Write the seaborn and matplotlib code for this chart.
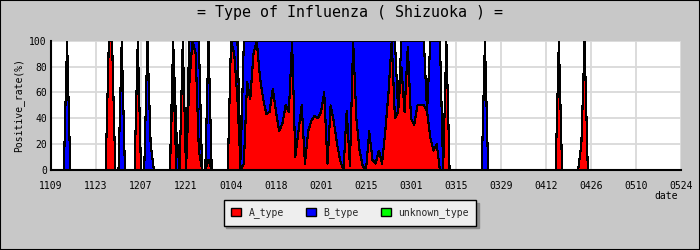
import numpy as np
import pandas as pd
import matplotlib
matplotlib.use('Agg')
import matplotlib.pyplot as plt
import seaborn as sns
from matplotlib.patches import Patch, Rectangle

title = '= Type of Influenza ( Shizuoka ) ='
series_names = ['A_type', 'B_type', 'unknown_type']
series_colors = ['#ff0000', '#0000ff', '#00ff00']
start_date = '2010-11-09'
tick_labels = ['1109', '1123', '1207', '1221', '0104', '0118', '0201', '0215',
               '0301', '0315', '0329', '0412', '0426', '0510', '0524']

# daily positive rate (%), one row = two weeks
a_type = [
    0, 0, 0, 0, 0, 0, 0, 0, 0, 0, 0, 0, 0, 0,
    0, 0, 0, 0, 100, 100, 0, 0, 0, 0, 0, 0, 0, 100,
    0, 0, 0, 0, 0, 0, 0, 0, 0, 0, 80, 0, 0, 100,
    0, 65, 100, 90, 15, 0, 0, 8, 0, 0, 0, 0, 0, 0,
    100, 90, 55, 0, 5, 68, 55, 90, 100, 72, 55, 43, 45, 63,
    45, 30, 36, 50, 45, 100, 10, 30, 50, 5, 30, 38, 42, 40,
    45, 60, 5, 50, 37, 20, 7, 0, 46, 3, 100, 40, 15, 3,
    0, 30, 8, 5, 15, 5, 30, 60, 100, 40, 45, 80, 45, 95,
    40, 35, 50, 50, 50, 45, 25, 15, 20, 0, 0, 100, 0, 0,
    0, 0, 0, 0, 0, 0, 0, 0, 0, 0, 0, 0, 0, 0,
    0, 0, 0, 0, 0, 0, 0, 0, 0, 0, 0, 0, 0, 0,
    0, 0, 0, 0, 100, 0, 0, 0, 0, 0, 0, 20, 100, 0,
    0, 0, 0, 0, 0, 0, 0, 0, 0, 0, 0, 0, 0, 0,
    0, 0, 0, 0, 0, 0, 0, 0, 0, 0, 0, 0, 0, 0,
    0,
]
b_type = [
    0, 0, 0, 0, 0, 100, 0, 0, 0, 0, 0, 0, 0, 0,
    0, 0, 0, 0, 0, 0, 0, 0, 100, 0, 0, 0, 0, 0,
    0, 0, 100, 20, 0, 0, 0, 0, 0, 0, 20, 30, 0, 0,
    0, 35, 0, 10, 85, 0, 0, 92, 0, 0, 0, 0, 0, 0,
    0, 10, 45, 8, 95, 32, 45, 10, 0, 28, 45, 57, 55, 37,
    55, 70, 64, 50, 55, 0, 90, 70, 50, 95, 70, 62, 58, 60,
    55, 40, 95, 50, 63, 80, 93, 100, 54, 97, 0, 60, 85, 97,
    100, 70, 92, 95, 85, 95, 70, 40, 0, 60, 0, 20, 55, 5,
    60, 65, 50, 50, 50, 0, 75, 85, 80, 100, 0, 0, 0, 0,
    0, 0, 0, 0, 0, 0, 0, 0, 0, 100, 0, 0, 0, 0,
    0, 0, 0, 0, 0, 0, 0, 0, 0, 0, 0, 0, 0, 0,
    0, 0, 0, 0, 0, 0, 0, 0, 0, 0, 0, 0, 0, 0,
    0, 0, 0, 0, 0, 0, 0, 0, 0, 0, 0, 0, 0, 0,
    0, 0, 0, 0, 0, 0, 0, 0, 0, 0, 0, 0, 0, 0,
    0,
]
unknown_type = [
    0, 0, 0, 0, 0, 0, 0, 0, 0, 0, 0, 0, 0, 0,
    0, 0, 0, 0, 0, 0, 0, 0, 0, 0, 0, 0, 0, 0,
    0, 0, 0, 0, 0, 0, 0, 0, 0, 0, 0, 0, 0, 0,
    0, 0, 0, 0, 0, 0, 0, 0, 0, 0, 0, 0, 0, 0,
    0, 0, 0, 0, 0, 0, 0, 0, 0, 0, 0, 0, 0, 0,
    0, 0, 0, 0, 0, 0, 0, 0, 0, 0, 0, 0, 0, 0,
    0, 0, 0, 0, 0, 0, 0, 0, 0, 0, 0, 0, 0, 0,
    0, 0, 0, 0, 0, 0, 0, 0, 0, 0, 0, 0, 0, 0,
    0, 0, 0, 0, 0, 0, 0, 0, 0, 0, 0, 0, 0, 0,
    0, 0, 0, 0, 0, 0, 0, 0, 0, 0, 0, 0, 0, 0,
    0, 0, 0, 0, 0, 0, 0, 0, 0, 0, 0, 0, 0, 0,
    0, 0, 0, 0, 0, 0, 0, 0, 0, 0, 0, 0, 0, 0,
    0, 0, 0, 0, 0, 0, 0, 0, 0, 0, 0, 0, 0, 0,
    0, 0, 0, 0, 0, 0, 0, 0, 0, 0, 0, 0, 0, 0,
    0,
]

sns.set_theme(style='white')
plt.rcParams['font.family'] = ['DejaVu Sans Mono']

df = pd.DataFrame({
    'date': pd.date_range(start_date, periods=len(a_type)),
    'A_type': a_type, 'B_type': b_type, 'unknown_type': unknown_type,
})

fig = plt.figure(figsize=(7, 2.5), dpi=100, facecolor='#c8c8c8')
ax = fig.add_axes([51 / 700, 80 / 250, 630 / 700, 129.3 / 250])
ax.set_facecolor('white')

lower = np.zeros(len(df))
for name, color in zip(series_names, series_colors):
    upper = lower + df[name].to_numpy(dtype=float)
    ax.fill_between(df['date'], lower, upper, color=color, lw=0, zorder=2,
                    antialiased=False)
    sns.lineplot(x=df['date'], y=upper, color='black', lw=0.8, ax=ax, zorder=3,
                 antialiased=False)
    lower = upper

ax.set_xlim(df['date'].iloc[0], df['date'].iloc[-1])
ax.set_ylim(0, 100)
ax.set_xticks(df['date'].iloc[::14])
ax.set_xticklabels(tick_labels)
ax.set_yticks([0, 20, 40, 60, 80, 100])
ax.set_yticks([10, 30, 50, 70, 90], minor=True)
ax.tick_params(axis='both', which='both', direction='in', length=4, width=1,
               color='black', labelsize=7, labelcolor='black')
ax.tick_params(axis='x', pad=8)
ax.tick_params(axis='y', pad=3)
ax.grid(True, which='major', color='#d9d9d9', lw=1.3, zorder=0)
ax.set_axisbelow(True)
for side in ['top', 'right']:
    ax.spines[side].set_visible(False)
for side in ['left', 'bottom']:
    ax.spines[side].set_color('black')
    ax.spines[side].set_linewidth(1.5)
    ax.spines[side].set_zorder(5)

ax.set_xlabel('')
ax.set_ylabel('Positive_rate(%)', fontsize=7, color='black')
ax.yaxis.set_label_coords(-0.043, 0.5)
ax.text(0.995, -0.201, 'date', transform=ax.transAxes, ha='right', va='center',
        fontsize=7, color='black')

fig.text(0.5, 1 - 12.5 / 250, title, ha='center', va='center', fontsize=10.8,
         color='black')

handles = [Patch(facecolor=c, edgecolor='black', lw=1) for c in series_colors]
leg = fig.legend(handles, series_names, loc='center', bbox_to_anchor=(0.5, 1 - 212.8 / 250),
                 ncol=3, fontsize=7, frameon=True, fancybox=False,
                 shadow={'color': '#8a8a8a', 'alpha': 1.0},
                 handlelength=1.0, handleheight=1.0, handletextpad=0.8,
                 columnspacing=2.3, borderpad=0.75)
leg.get_frame().set_facecolor('#eeeeee')
leg.get_frame().set_edgecolor('black')
leg.get_frame().set_linewidth(1.0)
leg.get_frame().set_alpha(1.0)

fig.patches.append(Rectangle((0, 0), 1, 1, transform=fig.transFigure, fill=False,
                             edgecolor='black', lw=1.5))

fig.savefig('out.png', dpi=100, facecolor=fig.get_facecolor())
